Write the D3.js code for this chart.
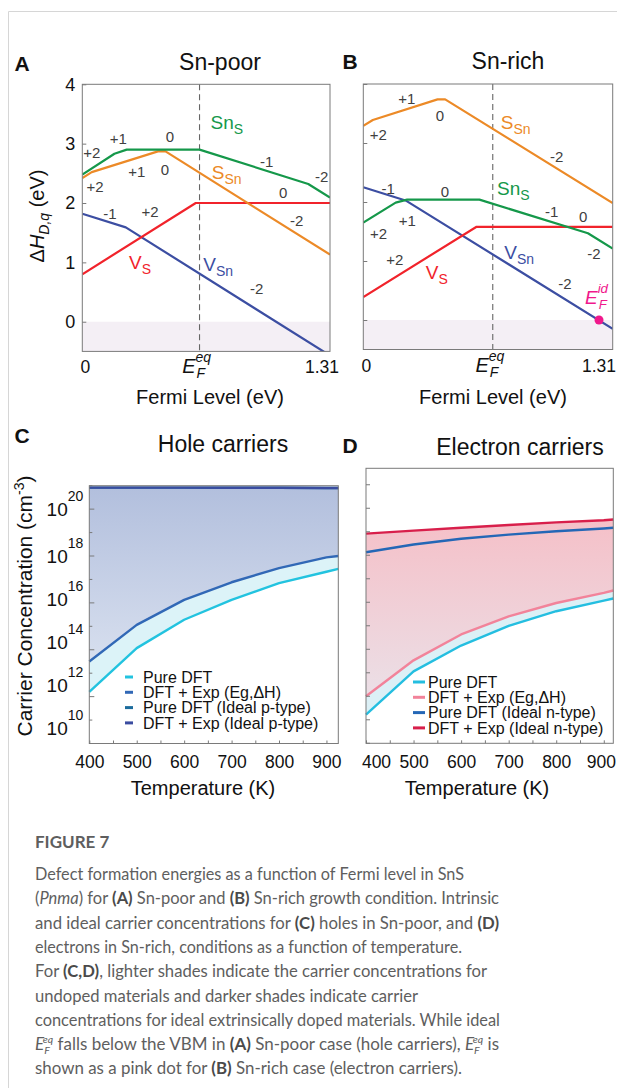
<!DOCTYPE html>
<html>
<head>
<meta charset="utf-8">
<script src="https://cdn.jsdelivr.net/npm/d3@7"></script>
<style>
  html, body { margin: 0; padding: 0; background: #fff; }
  svg { display: block; }
  text { font-family: "Liberation Sans", Arial, sans-serif; }
  .cap { font-family: Lato, "Open Sans", sans-serif; fill: #5e5e5e; }
</style>
</head>
<body>
<script>
// ---------- A/B: defect formation energy (eV) vs Fermi level (eV) ----------
const fermiMax = 1.31;
const energyTicks = [0, 1, 2, 3, 4];
const efEqPoor = 0.62;
const efEqRich = 0.68;
const efIdRich = 1.238;

// [Fermi level, formation energy]
const snSPoor = [[0, 2.48], [0.17, 2.83], [0.235, 2.90], [0.62, 2.90], [1.195, 2.32], [1.31, 2.09]];
const sSnPoor = [[0, 2.42], [0.05, 2.52], [0.40, 2.87], [0.44, 2.87], [1.31, 1.13]];
const vSPoor = [[0, 0.80], [0.60, 2.0], [1.31, 2.0]];
const vSnPoor = [[0, 1.82], [0.23, 1.59], [1.31, -0.57]];

const sSnRich = [[0, 3.29], [0.05, 3.39], [0.39, 3.74], [0.43, 3.74], [1.31, 1.98]];
const snSRich = [[0, 1.65], [0.17, 1.99], [0.23, 2.04], [0.61, 2.04], [1.18, 1.47], [1.31, 1.21]];
const vSRich = [[0, 0.39], [0.595, 1.58], [1.31, 1.58]];
const vSnRich = [[0, 2.25], [0.226, 2.02], [1.31, -0.15]];

// charge state labels [text, fermi, energy]
const poorCharges = [["+2", 0.05, 2.85], ["+1", 0.19, 3.09], ["0", 0.464, 3.12], ["+1", 0.288, 2.53],
  ["0", 0.437, 2.56], ["+2", 0.067, 2.27], ["-1", 0.975, 2.70], ["-2", 1.266, 2.44], ["0", 1.063, 2.18],
  ["-2", 1.134, 1.70], ["-1", 0.146, 1.83], ["+2", 0.358, 1.85], ["-2", 0.922, 0.56]];
const richCharges = [["+1", 0.228, 3.76], ["0", 0.403, 3.47], ["+2", 0.079, 3.14], ["-2", 1.016, 2.77],
  ["-1", 0.131, 2.23], ["0", 0.429, 2.17], ["+1", 0.231, 1.69], ["+2", 0.08, 1.47], ["-1", 0.99, 1.84],
  ["0", 1.155, 1.75], ["-2", 1.212, 1.12], ["+2", 0.166, 1.02], ["-2", 1.059, 0.62]];
const poorNames = [["Sn", "S", "snS", 0.764, 3.29], ["S", "Sn", "sSn", 0.764, 2.44], ["V", "S", "vS", 0.305, 0.93], ["V", "Sn", "vSn", 0.719, 0.90]];
const richNames = [["S", "Sn", "sSn", 0.80, 3.28], ["Sn", "S", "snS", 0.788, 2.15], ["V", "S", "vS", 0.386, 0.73], ["V", "Sn", "vSn", 0.819, 1.07]];

// ---------- C/D: carrier concentration (log10 cm^-3) vs temperature (K) ----------
const tempTicks = [400, 500, 600, 700, 800, 900];
const tempsHole = [400, 500, 600, 700, 800, 900, 925];
const holePure = [12.2, 14.07, 15.28, 16.13, 16.84, 17.33, 17.45];
const holeExp = [13.5, 15.06, 16.13, 16.88, 17.48, 17.94, 18.0];
const holeIdealPure = [20.92, 20.92, 20.92, 20.91, 20.91, 20.90, 20.90];
const holeIdealExp = [20.92, 20.92, 20.92, 20.91, 20.91, 20.90, 20.90];

const tempsElec = [400, 500, 600, 700, 800, 900, 920];
const elecPure = [11.22, 13.06, 14.16, 15.0, 15.62, 16.07, 16.16];
const elecExp = [12.0, 13.53, 14.63, 15.40, 15.97, 16.40, 16.50];
const elecIdealPure = [18.13, 18.46, 18.70, 18.88, 19.02, 19.14, 19.17];
const elecIdealExp = [18.92, 19.05, 19.17, 19.29, 19.40, 19.49, 19.52];

const holeLegend = ["Pure DFT", "DFT + Exp (Eg,\u0394H)", "Pure DFT (Ideal p-type)", "DFT + Exp (Ideal p-type)"];
const elecLegend = ["Pure DFT", "DFT + Exp (Eg,\u0394H)", "Pure DFT (Ideal n-type)", "DFT + Exp (Ideal n-type)"];

const defectColor = { snS: "#15984a", sSn: "#ec8a27", vS: "#f1232b", vSn: "#3c4ea2" };

const svg = d3.select("body").append("svg").attr("width", 617).attr("height", 1088);

// card outline
svg.append("path").attr("d", "M8.5,1088V11.5H617").attr("fill", "none").attr("stroke", "#d6d6d6");

function bigTitle(txt, x, y) {
  svg.append("text").attr("x", x).attr("y", y).attr("text-anchor", "middle")
    .attr("font-size", 23).attr("fill", "#111").text(txt);
}
function letter(txt, x, y) {
  svg.append("text").attr("x", x).attr("y", y).attr("text-anchor", "middle")
    .attr("font-size", 21).attr("font-weight", "bold").attr("fill", "#111").text(txt);
}

// E with subscript F and superscript (eq / id), italic, stacked
function efText(g, x, y, sup, color, size) {
  g.append("text").attr("x", x - 4).attr("y", y).attr("text-anchor", "end")
    .attr("font-size", size).attr("font-style", "italic").attr("fill", color).text("E");
  g.append("text").attr("x", x - 3).attr("y", y + 5).attr("font-size", size * 0.7)
    .attr("font-style", "italic").attr("fill", color).text("F");
  g.append("text").attr("x", x - 4).attr("y", y - 11).attr("font-size", size * 0.7)
    .attr("font-style", "italic").attr("fill", color).text(sup);
}

function drawDefect(o) {
  const x = d3.scaleLinear().domain([0, fermiMax]).range(o.xr);
  const y = d3.scaleLinear().domain([-0.5, 4]).range(o.yr);
  const g = svg.append("g");

  g.append("clipPath").attr("id", "clip" + o.id).append("rect")
    .attr("x", x(0)).attr("y", y(4)).attr("width", x(fermiMax) - x(0)).attr("height", y(-0.5) - y(4));

  g.append("rect").attr("x", x(0)).attr("y", y(0)).attr("width", x(fermiMax) - x(0))
    .attr("height", y(-0.5) - y(0)).attr("fill", "#f4eff5");

  g.append("line").attr("x1", x(o.ef)).attr("x2", x(o.ef)).attr("y1", y(4)).attr("y2", y(-0.5))
    .attr("stroke", "#666").attr("stroke-width", 1.1).attr("stroke-dasharray", "6,4");

  const line = d3.line().x(d => x(d[0])).y(d => y(d[1]));
  const lg = g.append("g").attr("clip-path", `url(#clip${o.id})`);
  o.curves.forEach(c => {
    lg.append("path").attr("d", line(c[0])).attr("fill", "none")
      .attr("stroke", defectColor[c[1]]).attr("stroke-width", 2.2).attr("stroke-linejoin", "round");
  });

  if (o.dot != null) {
    g.append("circle").attr("cx", x(o.dot)).attr("cy", y(0)).attr("r", 4.5).attr("fill", "#f0188c");
    efText(g, x(1.252), y(0.39) + 7, "id", "#f0188c", 19);
  }

  g.append("rect").attr("x", x(0)).attr("y", y(4)).attr("width", x(fermiMax) - x(0))
    .attr("height", y(-0.5) - y(4)).attr("fill", "none").attr("stroke", "#7a7a7a").attr("stroke-width", 1);

  const ay = d3.axisLeft(y).tickValues(energyTicks).tickSize(-4).tickPadding(7)
    .tickFormat(o.yLabels ? d3.format("d") : () => "");
  g.append("g").attr("transform", `translate(${x(0)},0)`).call(ay)
    .call(s => s.select(".domain").remove())
    .call(s => s.selectAll(".tick line").attr("stroke", "#7a7a7a"))
    .call(s => s.selectAll(".tick text").attr("font-size", 18).attr("fill", "#111")
      .attr("font-family", "Liberation Sans, Arial, sans-serif"));

  // x tick labels
  const tb = y(-0.5) + 22;
  g.append("text").attr("x", x(0) + 3).attr("y", tb).attr("text-anchor", "middle")
    .attr("font-size", 17.5).attr("fill", "#111").text("0");
  g.append("text").attr("x", Math.min(x(fermiMax) + 9, 616)).attr("y", tb).attr("text-anchor", "end")
    .attr("font-size", 17.5).attr("fill", "#111").text("1.31");
  efText(g, x(o.ef), tb, "eq", "#111", 20);
  g.append("text").attr("x", o.xTitle).attr("y", 404).attr("text-anchor", "middle")
    .attr("font-size", 20).attr("fill", "#111").text("Fermi Level (eV)");

  o.charges.forEach(c => {
    g.append("text").attr("x", x(c[1])).attr("y", y(c[2])).attr("dy", "0.36em")
      .attr("text-anchor", "middle").attr("font-size", 15).attr("fill", "#404040").text(c[0]);
  });
  o.names.forEach(n => {
    const t = g.append("text").attr("x", x(n[3])).attr("y", y(n[4])).attr("dy", "0.12em")
      .attr("text-anchor", "middle").attr("font-size", 19).attr("fill", defectColor[n[2]]);
    t.append("tspan").text(n[0]);
    t.append("tspan").attr("dy", 5).attr("font-size", 14).text(n[1]);
  });
}

letter("A", 22, 71);
bigTitle("Sn-poor", 220, 70);
letter("B", 350, 69);
bigTitle("Sn-rich", 508, 69);

drawDefect({
  id: "A", xr: [82.3, 330], yr: [351.4, 84.3], ef: efEqPoor, yLabels: true, xTitle: 210,
  curves: [[vSnPoor, "vSn"], [vSPoor, "vS"], [sSnPoor, "sSn"], [snSPoor, "snS"]],
  charges: poorCharges, names: poorNames, dot: null
});
drawDefect({
  id: "B", xr: [363.3, 612.7], yr: [349.5, 84], ef: efEqRich, yLabels: false, xTitle: 493,
  curves: [[vSnRich, "vSn"], [vSRich, "vS"], [sSnRich, "sSn"], [snSRich, "snS"]],
  charges: richCharges, names: richNames, dot: efIdRich
});

// y title panel A
const ht = svg.append("text").attr("transform", "translate(44,216) rotate(-90)")
  .attr("text-anchor", "middle").attr("font-size", 20).attr("fill", "#111");
ht.append("tspan").text("\u0394");
ht.append("tspan").attr("font-style", "italic").text("H");
ht.append("tspan").attr("font-style", "italic").attr("font-size", 14).attr("dy", 5).text("D,q");
ht.append("tspan").attr("dy", -5).text(" (eV)");

// ---------- carrier panels ----------
const defs = svg.append("defs");
function grad(id, y1, y2, c1, c2) {
  const gr = defs.append("linearGradient").attr("id", id).attr("gradientUnits", "userSpaceOnUse")
    .attr("x1", 0).attr("x2", 0).attr("y1", y1).attr("y2", y2);
  gr.append("stop").attr("offset", 0).attr("stop-color", c1);
  gr.append("stop").attr("offset", 1).attr("stop-color", c2);
}
grad("gradC", 487, 690, "#b2bfdd", "#dde4f1");
grad("gradD", 520, 700, "#f5c0c8", "#ebe0e7");

function drawCarrier(o) {
  const tMax = o.temps[o.temps.length - 1];
  const x = d3.scaleLinear().domain([400, tMax]).range(o.xr);
  const y = d3.scaleLog().domain([1e10, Math.pow(10, o.yTop)]).range(o.yr);
  const g = svg.append("g");
  const pts = vals => vals.map((v, i) => [o.temps[i], Math.pow(10, v)]);

  o.fills.forEach(f => {
    const up = pts(f[0]), lo = pts(f[1]);
    const area = d3.area().x(d => x(d[0])).y0((d, i) => y(lo[i][1])).y1(d => y(d[1]));
    g.append("path").attr("d", area(up)).attr("fill", f[2]);
  });

  const line = d3.line().x(d => x(d[0])).y(d => y(d[1]));
  o.series.forEach(s => {
    g.append("path").attr("d", line(pts(s[0]))).attr("fill", "none")
      .attr("stroke", s[1]).attr("stroke-width", 2.4).attr("stroke-linejoin", "round");
  });

  g.append("rect").attr("x", o.xr[0]).attr("y", o.yr[1]).attr("width", o.xr[1] - o.xr[0])
    .attr("height", o.yr[0] - o.yr[1]).attr("fill", "none").attr("stroke", "#7a7a7a");

  // y ticks (inward); the printed labels creep upward toward the bottom
  const decades = d3.range(10, Math.floor(o.yTop) + 1);
  decades.forEach(d => {
    const major = o.labels && d % 2 === 0;
    const len = o.labels ? (major ? 5 : 3) : 4;
    g.append("line").attr("x1", o.xr[0]).attr("x2", o.xr[0] + len)
      .attr("y1", y(Math.pow(10, d))).attr("y2", y(Math.pow(10, d))).attr("stroke", "#7a7a7a");
    if (major) {
      const t = g.append("text").attr("x", o.xr[0] - 6)
        .attr("y", y(Math.pow(10, d)) - Math.max(0, 18 - d) * 2).attr("dy", "0.38em")
        .attr("text-anchor", "end").attr("font-size", 19).attr("fill", "#111");
      t.append("tspan").text("10");
      t.append("tspan").attr("dy", -15).attr("font-size", 14).text(d);
    }
  });

  // x axis
  const ax = d3.axisBottom(x).tickValues(d3.range(400, tMax + 1, 50))
    .tickSize(-3).tickPadding(12).tickFormat(t => tempTicks.includes(t) ? t : "");
  g.append("g").attr("transform", `translate(0,${o.yr[0]})`).call(ax)
    .call(s => s.select(".domain").remove())
    .call(s => s.selectAll(".tick line").attr("stroke", "#7a7a7a"))
    .call(s => s.selectAll(".tick text").attr("font-size", 17.5).attr("fill", "#111")
      .attr("font-family", "Liberation Sans, Arial, sans-serif")
      .attr("dx", t => t === 400 ? o.firstDx : (t === 900 ? o.lastDx : 0)));

  g.append("text").attr("x", o.xTitle).attr("y", 795).attr("text-anchor", "middle")
    .attr("font-size", 20).attr("fill", "#111").text("Temperature (K)");

  // legend
  o.legend.forEach((name, i) => {
    const ly = o.legPos[1] + i * 15.3;
    g.append("line").attr("x1", o.legPos[0]).attr("x2", o.legPos[0] + o.legLen)
      .attr("y1", ly).attr("y2", ly).attr("stroke", o.legColors[i]).attr("stroke-width", 3);
    g.append("text").attr("x", o.legPos[0] + o.legLen + o.legGap).attr("y", ly).attr("dy", "0.36em")
      .attr("font-size", 16).attr("fill", "#111").text(name);
  });
}

letter("C", 22, 443);
bigTitle("Hole carriers", 223, 452);
letter("D", 350, 453);
bigTitle("Electron carriers", 520, 455);

const holeColors = ["#22c3df", "#3168b6", "#1b6b9c", "#3a4ca0"];
drawCarrier({
  temps: tempsHole, xr: [89.3, 338.3], yr: [743.5, 485.7], yTop: 21, labels: true, xTitle: 203,
  firstDx: 0, lastDx: 0,
  fills: [[holeIdealExp, holeExp, "url(#gradC)"], [holeExp, holePure, "#dcf3f8"]],
  series: [[holePure, holeColors[0]], [holeExp, holeColors[1]], [holeIdealPure, holeColors[2]], [holeIdealExp, holeColors[3]]],
  legend: holeLegend, legColors: holeColors, legPos: [125, 677], legLen: 8, legGap: 10
});

const elecColors = ["#24bee0", "#f2839a", "#2467b6", "#d81f4b"];
drawCarrier({
  temps: tempsElec, xr: [366, 613.3], yr: [743.3, 468.3], yTop: 21.7, labels: false, xTitle: 477,
  firstDx: 10, lastDx: -3,
  fills: [[elecIdealExp, elecExp, "url(#gradD)"], [elecExp, elecPure, "#dcf0f6"]],
  series: [[elecPure, elecColors[0]], [elecExp, elecColors[1]], [elecIdealPure, elecColors[2]], [elecIdealExp, elecColors[3]]],
  legend: elecLegend, legColors: elecColors, legPos: [413, 682], legLen: 12, legGap: 3
});

// y title panel C
const ct = svg.append("text").attr("transform", "translate(32,606) rotate(-90)")
  .attr("text-anchor", "middle").attr("font-size", 21).attr("fill", "#111");
ct.append("tspan").text("Carrier Concentration (cm");
ct.append("tspan").attr("dy", -8).attr("font-size", 14).text("-3");
ct.append("tspan").attr("dy", 8).text(")");

// ---------- caption ----------
const captionLines = [
  [["Defect formation energies as a function of Fermi level in SnS"]],
  [["("], ["Pnma", "i"], [") for "], ["(A)", "b"], [" Sn-poor and "], ["(B)", "b"], [" Sn-rich growth condition. Intrinsic"]],
  [["and ideal carrier concentrations for "], ["(C)", "b"], [" holes in Sn-poor, and "], ["(D)", "b"]],
  [["electrons in Sn-rich, conditions as a function of temperature."]],
  [["For "], ["(C,D)", "b"], [", lighter shades indicate the carrier concentrations for"]],
  [["undoped materials and darker shades indicate carrier"]],
  [["concentrations for ideal extrinsically doped materials. While ideal"]],
  [["E", "i"], ["F", "sub"], ["eq", "sup"], [" falls below the VBM in "], ["(A)", "b"], [" Sn-poor case (hole carriers), "],
   ["E", "i"], ["F", "sub"], ["eq", "sup"], [" is"]],
  [["shown as a pink dot for "], ["(B)", "b"], [" Sn-rich case (electron carriers)."]]
];
// line widths in the figure (px)
const captionWidths = [429, 464, 464, 427, 452, 383, 465, 464, 427];

svg.append("text").attr("class", "cap").attr("x", 35).attr("y", 848)
  .attr("font-size", 17).attr("font-weight", 700).attr("fill", "#555").text("FIGURE 7");

const capSize = 16.4;
captionLines.forEach((segs, i) => {
  const t = svg.append("text").attr("class", "cap").attr("x", 35).attr("y", 880 + i * 24.3)
    .attr("font-size", capSize).attr("textLength", captionWidths[i]).attr("lengthAdjust", "spacingAndGlyphs");
  let shift = 0;
  segs.forEach(s => {
    const sp = t.append("tspan").text(s[0]);
    if (s[1] === "i") sp.attr("font-style", "italic");
    if (s[1] === "b") sp.attr("font-weight", 700).attr("fill", "#4a4a4a");
    if (s[1] === "sub") {
      sp.attr("font-style", "italic").attr("font-size", capSize * 0.62).attr("dy", 4 - shift);
      shift = 4;
    } else if (s[1] === "sup") {
      sp.attr("font-style", "italic").attr("font-size", capSize * 0.62).attr("dx", -capSize * 0.38).attr("dy", -7 - shift);
      shift = -7;
    } else if (shift !== 0) {
      sp.attr("dy", -shift);
      shift = 0;
    }
  });
});
</script>
</body>
</html>
